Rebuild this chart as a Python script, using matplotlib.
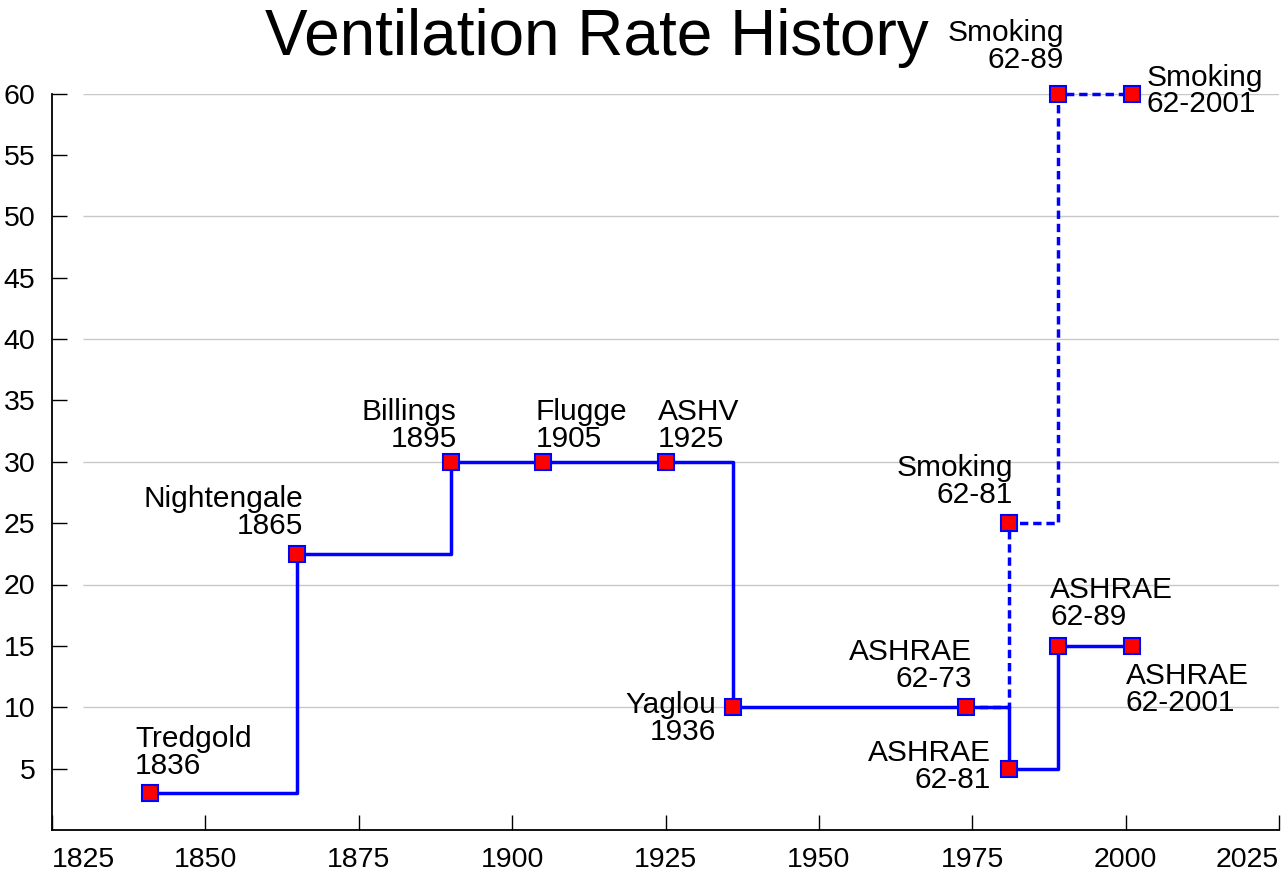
import matplotlib
matplotlib.use("Agg")
from matplotlib import pyplot as plt

# Ventilation standards (cfm per person) over the years
names = ["Tredgold\n1836", "Nightengale\n1865", "Billings\n1895", "Flugge\n1905",
         "ASHV\n1925", "Yaglou\n1936", "ASHRAE\n62-73", "ASHRAE\n62-81",
         "ASHRAE\n62-89", "ASHRAE\n62-2001"]
years = [1841, 1865, 1890, 1905, 1925, 1936, 1974, 1981, 1989, 2001]
rates = [3, 22.5, 30, 30, 30, 10, 10, 5, 15, 15]

# Smoking areas, the dashed branch starts at the ASHRAE 62-73 value
smoking_names = ["Smoking\n62-81", "Smoking\n62-89", "Smoking\n62-2001"]
smoking_years = [1974, 1981, 1989, 2001]
smoking_rates = [10, 25, 60, 60]

x_ticks = [1825, 1850, 1875, 1900, 1925, 1950, 1975, 2000, 2025]
y_ticks = [5, 10, 15, 20, 25, 30, 35, 40, 45, 50, 55, 60]
grid_levels = [10, 20, 30, 40, 50, 60]

# label placement: (ha, dx, dy) in pixels from the point, dy to the last baseline
label_pos = [("left", -15, 19), ("right", 6, 20), ("right", 6, 15), ("left", -7, 15),
             ("left", -8, 15), ("right", -17, -33), ("right", 6, 20), ("right", -18, -19),
             ("left", -8, 21), ("left", -6, -65)]
smoking_pos = [("right", 4, 20), ("right", 6, 26), ("left", 15, -19)]


def main():
    plt.rcParams["font.family"] = ["Liberation Sans", "DejaVu Sans"]
    fig = plt.figure(figsize=(12.83, 8.76), dpi=100)
    ax = fig.add_axes([52 / 1283, 46 / 876, 1227 / 1283, 736.5 / 876])

    # grid lines only every 10, and they stop short of the left spine
    ax.hlines(grid_levels, 1830, 2025, color="#c8c8c8", lw=1, zorder=0)

    # dashed smoking branch below, solid main line on top
    ax.step(smoking_years, smoking_rates, where="post", color="#0000ff", lw=2.5,
            dashes=(2.4, 1.4), zorder=2, clip_on=False)
    ax.step(years, rates, where="post", color="#0000ff", lw=2.5, zorder=3)

    marker_kw = dict(ls="none", marker="s", markersize=11, markerfacecolor="#ff0000",
                     markeredgecolor="#0000ff", markeredgewidth=1.5, zorder=4, clip_on=False)
    ax.plot(years, rates, **marker_kw)
    ax.plot(smoking_years[1:], smoking_rates[1:], **marker_kw)

    # labels next to every point
    for name, x, y, (ha, dx, dy) in zip(names, years, rates, label_pos):
        ax.annotate(name, (x, y), xytext=(dx, dy), textcoords="offset pixels",
                    ha=ha, va="baseline", multialignment=ha, fontsize=21.5,
                    linespacing=0.95)
    for name, x, y, (ha, dx, dy) in zip(smoking_names, smoking_years[1:],
                                        smoking_rates[1:], smoking_pos):
        ax.annotate(name, (x, y), xytext=(dx, dy), textcoords="offset pixels",
                    ha=ha, va="baseline", multialignment=ha, fontsize=21.5,
                    linespacing=0.95)

    ax.set_xlim(1825, 2025)
    ax.set_ylim(0, 60)
    ax.set_xticks(x_ticks)
    ax.set_yticks(y_ticks)

    # Ticks and spines
    ax.spines["top"].set_visible(False)
    ax.spines["right"].set_visible(False)
    ax.spines["left"].set_linewidth(1.3)
    ax.spines["bottom"].set_linewidth(1.3)
    ax.tick_params(axis="both", direction="in", length=11, width=1, labelsize=20.5)
    ax.tick_params(axis="x", pad=12)
    ax.tick_params(axis="y", pad=12)

    # first and last year labels are pushed inside the figure
    xlabels = ax.get_xticklabels()
    xlabels[0].set_ha("left")
    xlabels[-1].set_ha("right")

    fig.text(597 / 1283, 1 - 55 / 876, "Ventilation Rate History", ha="center",
             va="baseline", fontsize=46)

    fig.savefig("out.png", dpi=100)


if __name__ == "__main__":
    main()
